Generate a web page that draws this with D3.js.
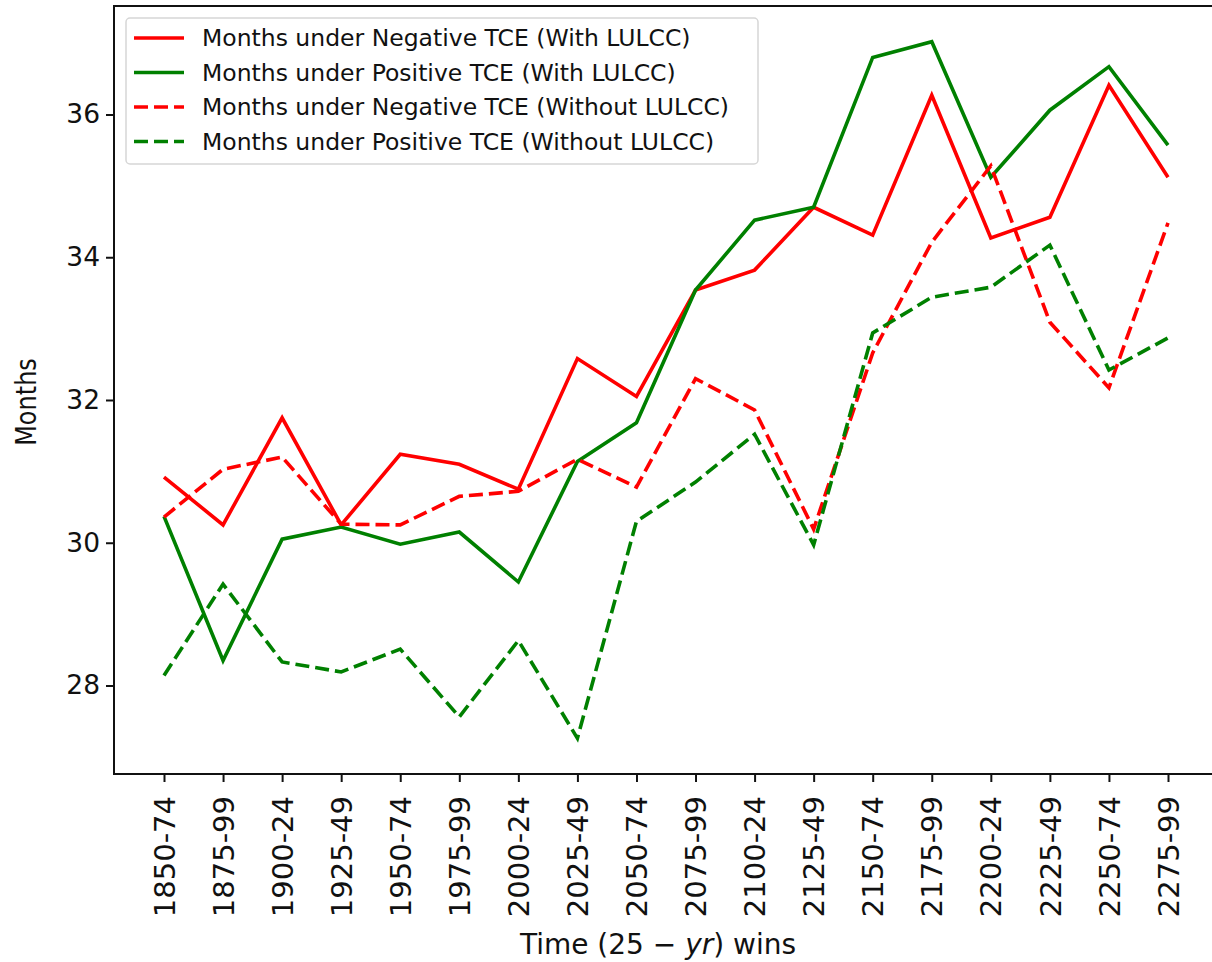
<!DOCTYPE html>
<html lang="en">
<head>
	<meta charset="utf-8">
	<title>Months under TCE</title>
	<script src="https://d3js.org/d3.v7.min.js"></script>
	<style>
		body {margin:0; background:#fff;}
		svg text {font-family:"DejaVu Sans", sans-serif; fill:#111;}
	</style>
</head>
<body>
	<div id="chart"></div>
	<script>
		// 25-yr windows
		const windows = ["1850-74","1875-99","1900-24","1925-49","1950-74","1975-99","2000-24","2025-49","2050-74",
			"2075-99","2100-24","2125-49","2150-74","2175-99","2200-24","2225-49","2250-74","2275-99"];
		const negWith    = [30.92,30.25,31.75,30.25,31.24,31.10,30.75,32.58,32.05,33.54,33.82,34.70,34.31,36.27,34.27,34.56,36.41,35.12];
		const posWith    = [30.37,28.35,30.05,30.22,29.98,30.15,29.45,31.14,31.68,33.54,34.52,34.70,36.80,37.02,35.12,36.06,36.67,35.57];
		const negWithout = [30.36,31.03,31.20,30.26,30.25,30.65,30.72,31.17,30.78,32.30,31.86,30.19,32.66,34.21,35.28,33.09,32.17,34.48];
		const posWithout = [28.14,29.42,28.33,28.19,28.51,27.56,28.63,27.26,30.30,30.85,31.52,29.97,32.94,33.44,33.58,34.17,32.42,32.87];
		const yTicks = [28, 30, 32, 34, 36];

		const series = [
			{name:"Months under Negative TCE (With LULCC)", values:negWith, color:"#ff0000", dash:null},
			{name:"Months under Positive TCE (With LULCC)", values:posWith, color:"#008000", dash:null},
			{name:"Months under Negative TCE (Without LULCC)", values:negWithout, color:"#ff0000", dash:"14,6"},
			{name:"Months under Positive TCE (Without LULCC)", values:posWithout, color:"#008000", dash:"14,6"}
		];

		const W = 1212, H = 962;
		const plotLeft = 114, plotRight = 1218, plotTop = 6, plotBottom = 774;

		const svg = d3.select("#chart").append("svg")
			.attr("width", W).attr("height", H);

		const x = d3.scalePoint().domain(windows).range([164, 1168]);
		const y = d3.scaleLinear().domain([26.76, 37.52]).range([plotBottom, plotTop]);

		// lines
		const line = d3.line()
			.x(function (d, i) { return x(windows[i]); })
			.y(function (d) { return y(d); });

		svg.append("g").selectAll("path")
			.data(series)
			.enter()
			.append("path")
			.attr("d", function (d) { return line(d.values); })
			.attr("fill", "none")
			.attr("stroke", function (d) { return d.color; })
			.attr("stroke-width", 3.6)
			.attr("stroke-dasharray", function (d) { return d.dash; })
			.attr("stroke-linejoin", "miter");

		// frame
		svg.append("rect")
			.attr("x", plotLeft).attr("y", plotTop)
			.attr("width", plotRight - plotLeft).attr("height", plotBottom - plotTop)
			.attr("fill", "none").attr("stroke", "#111").attr("stroke-width", 2);

		// axes
		const xAxis = svg.append("g")
			.attr("transform", "translate(0," + plotBottom + ")")
			.call(d3.axisBottom(x).tickSize(8).tickPadding(6));
		xAxis.select(".domain").remove();
		xAxis.selectAll("line").attr("stroke", "#111").attr("stroke-width", 2);
		xAxis.selectAll("text")
			.attr("font-size", 29)
			.attr("transform", "rotate(-90)")
			.attr("text-anchor", "end")
			.attr("x", -22).attr("y", 0).attr("dy", "0.35em");

		const yAxis = svg.append("g")
			.attr("transform", "translate(" + plotLeft + ",0)")
			.call(d3.axisLeft(y).tickValues(yTicks).tickSize(8).tickPadding(6));
		yAxis.select(".domain").remove();
		yAxis.selectAll("line").attr("stroke", "#111").attr("stroke-width", 2);
		yAxis.selectAll("text").attr("font-size", 26.5);

		// axis labels (the y label is a little wider across, like the source image)
		svg.append("text")
			.attr("transform", "translate(36,402) scale(1.2,1) rotate(-90)")
			.attr("text-anchor", "middle")
			.attr("font-size", 24)
			.text("Months");

		const xl = svg.append("text")
			.attr("x", 658).attr("y", 954)
			.attr("text-anchor", "middle")
			.attr("font-size", 28);
		xl.append("tspan").text("Time (25 \u2212 ");
		xl.append("tspan").attr("font-style", "italic").text("yr");
		xl.append("tspan").text(") wins");

		// legend
		const lg = svg.append("g").attr("transform", "translate(126,18)");
		lg.append("rect")
			.attr("width", 632).attr("height", 146).attr("rx", 4)
			.attr("fill", "#fff").attr("fill-opacity", 0.8)
			.attr("stroke", "#d6d6d6").attr("stroke-width", 1.5);
		const item = lg.selectAll("g.item")
			.data(series)
			.enter()
			.append("g")
			.attr("class", "item")
			.attr("transform", function (d, i) { return "translate(0," + (20 + i * 34.5) + ")"; });
		item.append("line")
			.attr("x1", 8).attr("x2", 58)
			.attr("stroke", function (d) { return d.color; })
			.attr("stroke-width", 3.6)
			.attr("stroke-dasharray", function (d) { return d.dash; });
		item.append("text")
			.attr("x", 76).attr("dy", "0.35em")
			.attr("font-size", 23.5)
			.text(function (d) { return d.name; });
	</script>
</body>
</html>
